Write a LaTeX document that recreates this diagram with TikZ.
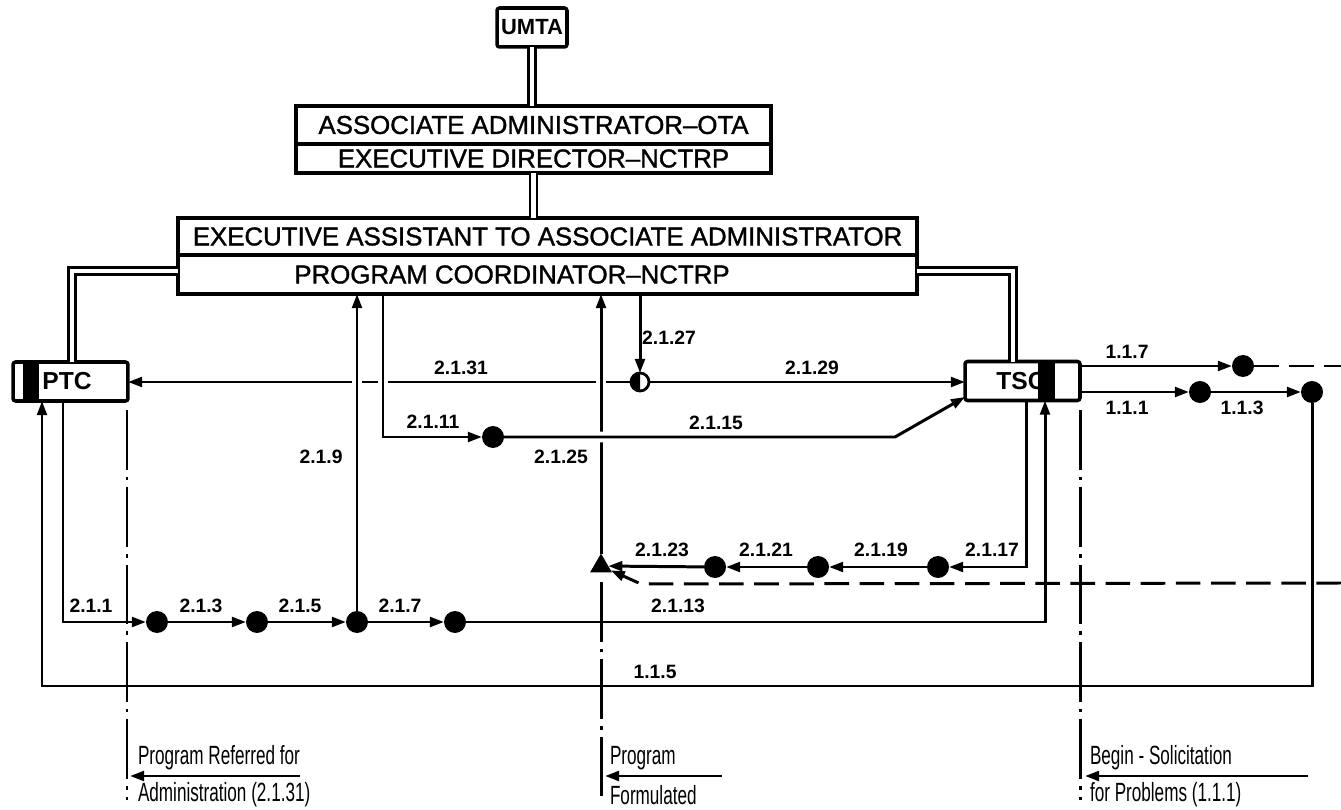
\documentclass[tikz,border=0pt]{standalone}
\usepackage{fontspec}
\setmainfont{Liberation Sans}
\newfontfamily\condfont[FakeStretch=0.65]{Liberation Sans}
\newfontfamily\boxfont[FakeBold=1.3]{Liberation Sans}
\usetikzlibrary{arrows.meta,shapes.geometric,calc}
\begin{document}
\begin{tikzpicture}[x=0.02cm,y=-0.02cm,
  every node/.style={inner sep=0pt, outer sep=0pt},
  ln/.style={line width=1.7pt},
  arr/.style={ln,-{Triangle[length=8pt,width=5.5pt]}},
  dbl/.style={double, double distance=2.4pt, line width=1.4pt},
  boxc/.style={draw, line width=2pt, font=\boxfont\fontsize{14.7}{16}\selectfont},
  dot/.style={circle, fill=black, minimum size=0.44cm},
  lbl/.style={font=\bfseries\fontsize{11}{13}\selectfont},
  btxt/.style={anchor=west, font=\condfont\fontsize{15}{17}\selectfont},
  dashdot/.style={line width=1.7pt, dash pattern=on 34pt off 4pt on 2pt off 4pt},
  dsh/.style={line width=1.7pt, dash pattern=on 14pt off 6pt},
  gap/.style={preaction={draw=white, line width=6pt, -, shorten >=12pt, shorten <=12pt}},
]
\useasboundingbox (0,0) rectangle (1341,810);

% boxes
\node[boxc, rounded corners=1.5pt, minimum width=1.4cm, minimum height=0.78cm, font=\bfseries\fontsize{12.5}{14}\selectfont] (umta) at (532,27.5) {UMTA};
\node[boxc, minimum width=9.5cm, minimum height=0.77cm] (ota1) at (533.5,125) {ASSOCIATE ADMINISTRATOR–OTA};
\node[boxc, minimum width=9.5cm, minimum height=0.58cm] (ota2) at (533.5,158.5) {EXECUTIVE DIRECTOR–NCTRP};
\node[boxc, minimum width=14.78cm, minimum height=0.74cm] (eaa1) at (547.5,236.5) {EXECUTIVE ASSISTANT TO ASSOCIATE ADMINISTRATOR};
\node[boxc, minimum width=14.78cm, minimum height=0.78cm] (eaa2) at (547.5,274.5) {};
\node[font=\boxfont\fontsize{14.7}{16}\selectfont] (pc) at (512,274.5) {PROGRAM COORDINATOR–NCTRP};

\node[boxc, rounded corners=1.5pt, minimum width=2.3cm, minimum height=0.78cm] (ptc) at (70.5,381.5) {};
\fill (23,362) rectangle (39,401);
\node[font=\bfseries\fontsize{14}{16}\selectfont] (ptct) at (67,381.5) {PTC};

\node[boxc, rounded corners=1.5pt, minimum width=2.3cm, minimum height=0.78cm] (tsc) at (1022.5,381) {};
\node[font=\bfseries\fontsize{14}{16}\selectfont] (tsct) at (1021,381) {TSC};
\fill (1038,362) rectangle (1055,400);

% double lines
\coordinate (dl) at (72,271);
\coordinate (dr) at (1013,271);
\draw[dbl] (umta.south) -- (umta.south |- ota1.north);
\draw[dbl] (ota2.south) -- (ota2.south |- eaa1.north);
\draw[dbl] (eaa2.west |- dl) -- (dl) -- (dl |- ptc.north);
\draw[dbl] (eaa2.east |- dr) -- (dr) -- (dr |- tsc.north);

% dots
\node[dot] (r1) at (157,622) {};
\node[dot] (r2) at (257,622) {};
\node[dot] (r3) at (357,622) {};
\node[dot] (r4) at (455,622) {};
\node[dot] (d11) at (493,437) {};
\node[dot] (s1) at (938,567) {};
\node[dot] (s2) at (818,567) {};
\node[dot] (s3) at (715,567) {};
\node[regular polygon, regular polygon sides=3, fill=black, minimum size=0.5cm] (tri) at (601,566) {};
\node[circle, draw, line width=1.6pt, fill=white, minimum size=0.36cm] (n27) at (640,382) {};
\fill (n27.north) arc[start angle=90, end angle=270, radius=0.18cm] -- cycle;
\node[dot] (t7) at (1243,366) {};
\node[dot] (t1) at (1200,392) {};
\node[dot] (t3) at (1312,392) {};

% coordinates
\coordinate (c1) at (63,622);
\coordinate (c11) at (383,437);
\coordinate (c15) at (895,437);
\coordinate (c13) at (1045,622);
\coordinate (c17) at (1026,567);
\coordinate (c13d) at (641,584);
\coordinate (e13) at (1341,583);
\coordinate (e7) at (1341,366);
\coordinate (c5r) at (1312,686);
\coordinate (c5l) at (42,686);
\coordinate (b1t) at (127,410);
\coordinate (b1b) at (127,800);
\coordinate (b2t) at (601,582);
\coordinate (b2b) at (601,800);
\coordinate (b3t) at (1080,410);
\coordinate (b3b) at (1080,800);
\coordinate (a1s) at (300,776);
\coordinate (a1e) at (130,776);
\coordinate (a2s) at (722,776);
\coordinate (a2e) at (605,776);
\coordinate (a3s) at (1308,776);
\coordinate (a3e) at (1085,776);

% connectors
\draw[arr] (n27) -- (n27 -| ptc.east);
\draw[arr] (n27) -- (n27 -| tsc.west);
\draw[arr] (n27 |- eaa2.south) -- (n27);
\draw[arr, gap] (r3) -- (r3 |- eaa2.south);
\draw[arr, gap] (c11 |- eaa2.south) -- (c11) -- (d11);
\draw[arr, gap] (tri) -- (tri |- eaa2.south);
\draw[arr, gap] (d11) -- (c15) -- ([yshift=2pt]tsc.south west);

\draw[arr] (c1 |- ptc.south) -- (c1) -- (r1);
\draw[arr] (r1) -- (r2);
\draw[arr] (r2) -- (r3);
\draw[arr] (r3) -- (r4);
\draw[arr] (r4) -- (c13) -- (c13 |- tsc.south);

\draw[arr] (c17 |- tsc.south) -- (c17) -- (s1);
\draw[arr] (s1) -- (s2);
\draw[arr] (s2) -- (s3);
\draw[arr] (s3) -- (tri);
\draw[dsh, -{Triangle[length=8pt,width=5.5pt]}] (e13) -- (c13d) -- (tri);

\draw[arr] (tsc.east |- t7) -- (t7);
\draw[dsh] (t7) -- (e7);
\draw[arr] (tsc.east |- t1) -- (t1);
\draw[arr] (t1) -- (t3);
\draw[arr] (t3) -- (c5r) -- (c5l) -- (c5l |- ptc.south);

\draw[dashdot] (b1t) -- (b1b);
\draw[dashdot] (b2t) -- (b2b);
\draw[dashdot] (b3t) -- (b3b);

\draw[arr] (a1s) -- (a1e);
\draw[arr] (a2s) -- (a2e);
\draw[arr] (a3s) -- (a3e);

% labels
\node[lbl] (l231) at (461,368) {2.1.31};
\node[lbl] (l229) at (812,368) {2.1.29};
\node[lbl] (l227) at (669,338) {2.1.27};
\node[lbl] (l211) at (433,422) {2.1.11};
\node[lbl] (l215) at (716,423) {2.1.15};
\node[lbl] (l29) at (321,457) {2.1.9};
\node[lbl] (l225) at (561,457) {2.1.25};
\node[lbl] (l223) at (662,550) {2.1.23};
\node[lbl] (l221) at (766,550) {2.1.21};
\node[lbl] (l219) at (881,550) {2.1.19};
\node[lbl] (l217) at (992,550) {2.1.17};
\node[lbl] (l21) at (91,606) {2.1.1};
\node[lbl] (l23) at (201,606) {2.1.3};
\node[lbl] (l25) at (300,606) {2.1.5};
\node[lbl] (l27) at (400,606) {2.1.7};
\node[lbl] (l213) at (678,606) {2.1.13};
\node[lbl] (l15) at (655,672) {1.1.5};
\node[lbl] (l17) at (1127,352) {1.1.7};
\node[lbl] (l11) at (1127,408) {1.1.1};
\node[lbl] (l13) at (1242,408) {1.1.3};

% bottom texts
\node[btxt] (bt1) at (138,758) {Program Referred for};
\node[btxt] (bt2) at (138,795) {Administration (2.1.31)};
\node[btxt] (bt3) at (610,758) {Program};
\node[btxt] (bt4) at (610,795) {Formulated};
\node[btxt] (bt5) at (1090,758) {Begin - Solicitation};
\node[btxt] (bt6) at (1090,795) {for Problems (1.1.1)};
\end{tikzpicture}
\end{document}
